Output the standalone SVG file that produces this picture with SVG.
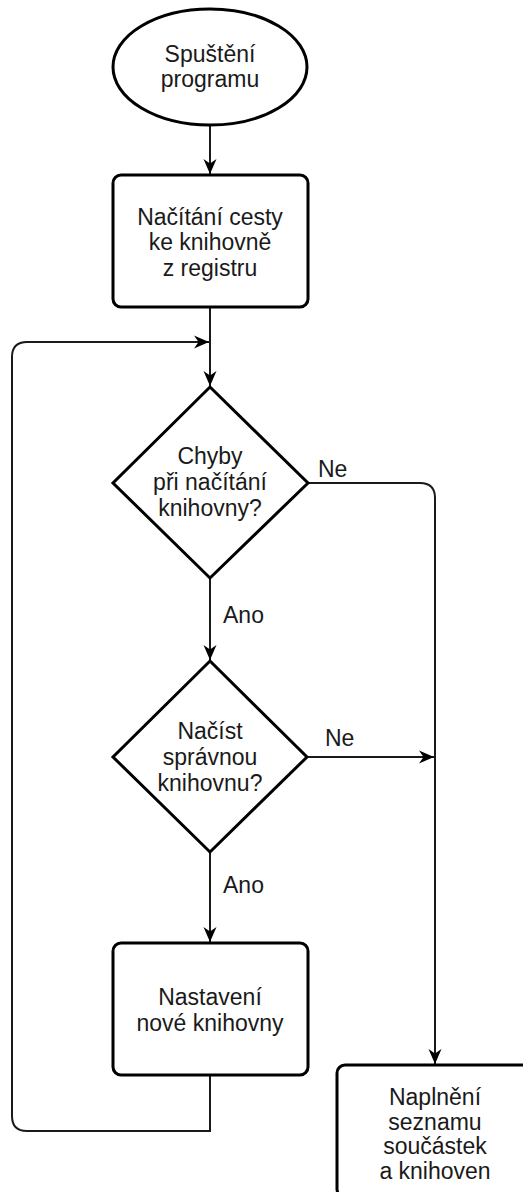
<svg xmlns="http://www.w3.org/2000/svg" width="523" height="1192" viewBox="0 0 523 1192">
<style>
.s{fill:#fff;stroke:#000;stroke-width:3}
.c{fill:none;stroke:#1a1a1a;stroke-width:2}
.t{font-family:"Liberation Sans",Arial,sans-serif;font-size:23px;fill:#1a1a1a;text-anchor:middle}
.l{font-family:"Liberation Sans",Arial,sans-serif;font-size:23px;fill:#1a1a1a}
</style>
<defs>
<marker id="a" markerUnits="userSpaceOnUse" markerWidth="16" markerHeight="14" viewBox="0 0 16 14" refX="15" refY="7" orient="auto">
<path d="M0,0.5 L15,7 L0,13.5 L4.5,7 z" fill="#000"/>
</marker>
</defs>
<rect width="523" height="1192" fill="#fff"/>
<g id="connectors">
<path class="c" d="M210,125 V174" marker-end="url(#a)"/>
<path class="c" d="M210,307 V386" marker-end="url(#a)"/>
<path class="c" d="M210,578 V660" marker-end="url(#a)"/>
<path class="c" d="M210,852 V942" marker-end="url(#a)"/>
<path class="c" d="M210,1075 V1131 H27 Q12,1131 12,1116 V357 Q12,342 27,342 H209" marker-end="url(#a)"/>
<path class="c" d="M308,483 H420 Q435,483 435,498 V1064" marker-end="url(#a)"/>
<path class="c" d="M307,757 H434" marker-end="url(#a)"/>
<text class="l" x="318" y="477">Ne</text>
<text class="l" x="325" y="746">Ne</text>
<text class="l" x="223" y="623">Ano</text>
<text class="l" x="223" y="893">Ano</text>
</g>
<g id="start">
<ellipse class="s" cx="210" cy="67" rx="97" ry="58"/>
<text class="t" x="210" y="62">Spuštění</text>
<text class="t" x="210" y="87">programu</text>
</g>
<g id="load">
<rect class="s" x="113" y="175" width="195" height="132" rx="8"/>
<text class="t" x="210" y="225">Načítání cesty</text>
<text class="t" x="210" y="250">ke knihovně</text>
<text class="t" x="210" y="276">z registru</text>
</g>
<g id="errors">
<polygon class="s" points="210,387 308,483 210,578 113,483"/>
<text class="t" x="210" y="464">Chyby</text>
<text class="t" x="210" y="490">při načítání</text>
<text class="t" x="210" y="516">knihovny?</text>
</g>
<g id="loadcorrect">
<polygon class="s" points="210,661 307,757 210,852 113,757"/>
<text class="t" x="210" y="739">Načíst</text>
<text class="t" x="210" y="765">správnou</text>
<text class="t" x="210" y="791">knihovnu?</text>
</g>
<g id="setnew">
<rect class="s" x="113" y="943" width="195" height="132" rx="8"/>
<text class="t" x="210" y="1005">Nastavení</text>
<text class="t" x="210" y="1031">nové knihovny</text>
</g>
<g id="fill">
<rect class="s" x="337" y="1065" width="195" height="132" rx="8"/>
<text class="t" x="435" y="1105">Naplnění</text>
<text class="t" x="435" y="1130">seznamu</text>
<text class="t" x="435" y="1154">součástek</text>
<text class="t" x="435" y="1179">a knihoven</text>
</g>
</svg>
